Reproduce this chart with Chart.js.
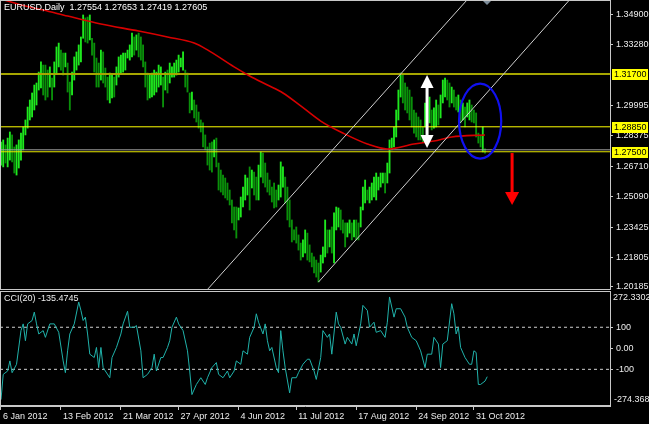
<!DOCTYPE html>
<html>
<head>
<meta charset="utf-8">
<script src="https://cdn.jsdelivr.net/npm/chart.js@4.4.1/dist/chart.umd.min.js"></script>
<style>
  html, body { margin: 0; padding: 0; background: #000; overflow: hidden; }
  #wrap { position: relative; width: 649px; height: 424px; background: #000; }
  #main { position: absolute; left: 0; top: 0; }
  #cci { position: absolute; left: 0; top: 290px; }
</style>
</head>
<body>
<div id="wrap">
  <canvas id="main" width="649" height="290"></canvas>
  <canvas id="cci" width="649" height="134"></canvas>
</div>
<script>
// ---------- Data ----------
const symbolName = 'EURUSD,Daily';
const lastOHLC = [1.27554, 1.27653, 1.27419, 1.27605];
const cciName = 'CCI(20)';
const cciLast = -135.4745;

// daily bars, high / low
const barHigh = [
  1.2803,1.2814,1.2787,1.2824,1.2857,1.2841,1.2776,1.2787,1.2814,1.2851,1.2884,1.2922,1.2992,1.3030,1.3068,1.3111,1.3122,1.3181,1.3236,1.3219,1.3219,1.3192,1.3209,1.3149,1.3236,1.3317,1.3338,1.3300,1.3284,1.3284,1.3230,1.3127,1.3181,1.3263,1.3290,1.3328,1.3371,1.3490,1.3474,1.3479,1.3490,1.3364,1.3338,1.3257,1.3230,
  1.3300,1.3290,1.3203,1.3154,1.3176,1.3165,1.3154,1.3209,1.3263,1.3273,1.3284,1.3284,1.3300,1.3328,1.3392,1.3371,1.3382,1.3392,1.3371,1.3328,1.3236,1.3176,1.3165,1.3176,1.3192,1.3181,1.3219,1.3209,1.3154,1.3181,1.3192,1.3230,1.3209,1.3230,1.3246,1.3273,1.3257,1.3290,1.3192,1.3176,1.3068,1.3073,
  1.3030,1.3003,1.2965,1.2922,1.2906,1.2841,1.2776,1.2797,1.2803,1.2814,1.2824,1.2689,1.2651,1.2624,1.2608,1.2581,1.2543,1.2489,1.2451,1.2451,1.2446,1.2505,1.2559,1.2624,1.2608,1.2668,1.2651,1.2640,1.2613,1.2678,1.2749,1.2743,1.2689,1.2635,1.2597,1.2559,1.2581,1.2543,1.2570,1.2695,1.2668,1.2613,1.2559,1.2489,1.2381,1.2327,1.2343,1.2300,1.2256,
  1.2273,1.2327,1.2310,1.2246,1.2202,1.2181,1.2164,1.2148,1.2191,1.2235,1.2381,1.2327,1.2327,1.2343,1.2419,1.2451,1.2446,1.2435,1.2381,1.2365,1.2365,1.2381,1.2365,1.2381,1.2381,1.2365,1.2451,1.2559,1.2597,1.2543,1.2559,1.2581,1.2613,1.2635,1.2613,1.2635,1.2635,1.2635,1.2689,
  1.2814,1.2824,1.2884,1.2976,1.3084,1.3176,1.3165,1.3122,1.3100,1.3084,1.3046,1.2976,1.2960,1.2938,1.2922,1.2884,1.3014,1.2976,1.3046,1.2976,1.2987,1.3030,1.3003,1.3057,1.3138,1.3149,1.3138,1.3122,1.3100,1.3084,1.3046,1.3057,1.3030,1.3014,1.2992,1.3014,1.3030,1.3003,1.2976,1.2960,1.2851,1.2841,1.2884,1.27653
];
const barLow = [
  1.2678,1.2668,1.2689,1.2668,1.2705,1.2695,1.2635,1.2624,1.2662,1.2705,1.2760,1.2841,1.2878,1.2922,1.2938,1.2976,1.3003,1.3084,1.3095,1.3057,1.3030,1.3046,1.3100,1.3030,1.3100,1.3176,1.3209,1.3192,1.3165,1.3209,1.3073,1.2976,1.3057,1.3138,1.3192,1.3219,1.3236,1.3364,1.3344,1.3338,1.3355,1.3273,1.3181,1.3100,1.3100,
  1.3138,1.3122,1.3100,1.3030,1.3014,1.3041,1.3046,1.3111,1.3154,1.3176,1.3181,1.3192,1.3257,1.3246,1.3263,1.3273,1.3300,1.3263,1.3246,1.3209,1.3100,1.3030,1.3041,1.3046,1.3057,1.3073,1.3100,1.3111,1.2992,1.3084,1.3068,1.3122,1.3154,1.3154,1.3165,1.3181,1.3209,1.3192,1.3100,1.3073,1.2960,1.2976,
  1.2933,1.2911,1.2878,1.2857,1.2776,1.2760,1.2678,1.2651,1.2640,1.2722,1.2668,1.2543,1.2532,1.2516,1.2500,1.2489,1.2462,1.2365,1.2327,1.2283,1.2381,1.2397,1.2451,1.2489,1.2516,1.2435,1.2554,1.2516,1.2489,1.2489,1.2613,1.2581,1.2559,1.2532,1.2516,1.2478,1.2446,1.2451,1.2489,1.2505,1.2559,1.2473,1.2381,1.2343,1.2262,1.2273,1.2256,1.2218,1.2164,
  1.2181,1.2202,1.2164,1.2154,1.2127,1.2094,1.2072,1.2045,1.2099,1.2148,1.2181,1.2202,1.2235,1.2202,1.2148,1.2327,1.2343,1.2327,1.2310,1.2235,1.2289,1.2310,1.2273,1.2289,1.2273,1.2273,1.2343,1.2435,1.2473,1.2489,1.2473,1.2489,1.2505,1.2489,1.2543,1.2559,1.2581,1.2527,1.2581,
  1.2635,1.2760,1.2776,1.2830,1.2922,1.3046,1.3014,1.2976,1.2960,1.2922,1.2884,1.2851,1.2830,1.2814,1.2814,1.2803,1.2884,1.2851,1.2906,1.2868,1.2878,1.2884,1.2895,1.2933,1.3014,1.3046,1.3030,1.2992,1.3014,1.2992,1.2976,1.2965,1.2906,1.2922,1.2884,1.2938,1.2922,1.2911,1.2906,1.2830,1.2797,1.2776,1.2749,1.27419
];

// moving average (red), sampled along the bar index
const maIdx = [0, 9, 19, 30, 45, 62, 75, 87, 93, 105, 112, 120, 127, 135, 144, 154, 165, 174, 186, 195, 203, 218];
const maVal = [1.3576, 1.3544, 1.3517, 1.3484, 1.3441, 1.3403, 1.3371, 1.3338, 1.3301, 1.3209, 1.3160, 1.3111, 1.3068, 1.2998, 1.2916, 1.2851, 1.2792, 1.2765, 1.2792, 1.2808, 1.2830, 1.2841];

// horizontal levels and bid line
const levelPrices = [1.31700, 1.28850, 1.27500];
const bidPrice = 1.27605;

// channel lines: [barIndex, price] anchors
const channelUpper = [[90, 1.1965], [214, 1.3626]];
const channelLower = [[143, 1.2045], [257, 1.3584]];

// price axis tick labels
const priceTicks = [1.34900, 1.33280, 1.29995, 1.28375, 1.26710, 1.25090, 1.23425, 1.21805, 1.20185];

// date axis
const dateLabels = ['6 Jan 2012', '13 Feb 2012', '21 Mar 2012', '27 Apr 2012', '4 Jun 2012', '11 Jul 2012', '17 Aug 2012', '24 Sep 2012', '31 Oct 2012'];
const dateIdx = [0, 27, 54, 80, 107, 133, 160, 187, 213];

// CCI(20)
const cciIdx = [0,1,3,4,5,7,9,10,11,12,14,15,16,17,19,20,22,24,26,28,29,30,31,33,35,36,37,38,39,40,
  42,43,44,45,46,47,49,50,52,54,55,57,58,60,61,63,64,66,68,69,70,72,73,75,76,77,79,80,82,84,
  85,86,88,89,90,92,93,95,97,98,100,102,103,105,106,108,109,111,112,114,115,116,118,119,120,121,122,124,125,126,
  127,128,130,131,133,134,136,138,139,141,142,144,145,147,148,149,151,152,153,155,156,158,159,160,162,163,165,166,168,169,
  171,173,174,175,177,178,180,182,183,185,187,189,191,192,194,195,197,198,199,201,203,204,205,206,207,209,211,212,213,214,
  215,216,218,219];
const cciVal = [-244,-124,-108,-60,-116,-76,84,116,36,116,132,172,116,68,84,52,116,116,76,-60,-116,-12,68,116,220,180,132,148,68,-28,
  -44,4,-92,4,-92,-108,-140,-44,4,68,116,176,100,100,108,-12,-140,-124,-92,-28,-108,-44,-44,4,36,100,148,116,84,-12,
  -108,-220,-172,-156,-140,-172,-140,-92,-68,-124,-140,-108,-140,-108,-60,-76,-12,-28,52,100,164,124,68,116,36,-12,4,-92,-116,84,
  -12,-92,-212,-140,-140,-116,-76,-52,-52,-108,-148,-44,84,52,68,-28,172,116,100,20,52,20,68,12,116,204,180,100,124,76,
  84,52,124,244,148,188,188,148,100,52,36,-12,-92,-28,-28,52,20,-92,20,36,212,164,68,100,4,-44,-76,-76,-12,-20,
  -172,-172,-156,-135];
const cciLevels = [100, -100];
const cciTicks = [100, 0, -100];
const cciRange = [-274.368, 272.3302];

// annotations, in bar index / price units
const rangeArrow = { idx: 191.9, top: 1.3165, bottom: 1.2770 };
const circleMark = { idx: 215.8, price: 1.2916, halfBars: 9.5, halfPrice: 0.0203 };
const downArrow = { idx: 230.2, top: 1.2743, tip: 1.2462 };
const shiftMarkIdx = 218.9;

// ---------- Setup ----------
const xMin = -0.45, xMax = 274.3;
const priceMin = 1.20021, priceMax = 1.3571;
const FONT = '"Liberation Sans", Arial, sans-serif';
const AXIS_COL = '#c8c8c8';
const TEXT_COL = '#ececec';

const barColors = barHigh.map((h, i) => {
    if (i === 0) return '#1ee81e';
    const mid = (h + barLow[i]) / 2;
    const prev = (barHigh[i - 1] + barLow[i - 1]) / 2;
    return mid >= prev ? '#1ee81e' : '#0a900a';
});

const hLine = v => [{ x: xMin, y: v }, { x: xMax, y: v }];
const toPts = (xs, ys) => xs.map((x, i) => ({ x, y: ys[i] }));
const lineDs = (data, color, width, order, extra) => Object.assign({
    type: 'line', data, borderColor: color, borderWidth: width,
    pointRadius: 0, tension: 0, order
}, extra || {});

// frame round the plot area
const frame = {
    id: 'frame',
    afterDraw(chart) {
        const { ctx, chartArea: a } = chart;
        ctx.save();
        ctx.strokeStyle = AXIS_COL;
        ctx.lineWidth = 1;
        ctx.strokeRect(a.left + 0.5, a.top + 0.5, a.right - a.left, a.bottom - a.top - 1);
        ctx.restore();
    }
};

function tri(ctx, x1, y1, x2, y2, x3, y3) {
    ctx.beginPath();
    ctx.moveTo(x1, y1); ctx.lineTo(x2, y2); ctx.lineTo(x3, y3);
    ctx.closePath();
    ctx.fill();
}

const mainOverlay = {
    id: 'mainOverlay',
    afterDatasetsDraw(chart) {
        const { ctx, chartArea: a } = chart;
        const xs = chart.scales.x, ys = chart.scales.y;
        ctx.save();

        // yellow price tags on the axis
        ctx.font = '9px ' + FONT;
        ctx.textBaseline = 'middle';
        ctx.textAlign = 'left';
        levelPrices.forEach(v => {
            const py = Math.round(ys.getPixelForValue(v));
            ctx.fillStyle = '#ffff00';
            ctx.fillRect(a.right + 2, py - 5, 36, 11);
            ctx.fillStyle = '#000';
            ctx.fillText(v.toFixed(5), a.right + 4, py + 0.5);
        });

        ctx.beginPath();
        ctx.rect(a.left, a.top, a.right - a.left, a.bottom - a.top);
        ctx.clip();

        // title
        ctx.fillStyle = '#ffffff';
        ctx.fillText(symbolName + '  ' + lastOHLC.map(v => v.toFixed(5)).join(' '), 4, 7.5);

        // white double arrow
        const ax = xs.getPixelForValue(rangeArrow.idx);
        const at = ys.getPixelForValue(rangeArrow.top);
        const ab = ys.getPixelForValue(rangeArrow.bottom);
        ctx.fillStyle = '#ffffff';
        ctx.fillRect(ax - 1.5, at + 10, 3, ab - at - 20);
        tri(ctx, ax, at, ax - 6.5, at + 13, ax + 6.5, at + 13);
        tri(ctx, ax, ab, ax - 6.5, ab - 13, ax + 6.5, ab - 13);

        // blue ellipse
        const cx = xs.getPixelForValue(circleMark.idx);
        const cy = ys.getPixelForValue(circleMark.price);
        const rx = Math.abs(xs.getPixelForValue(circleMark.idx + circleMark.halfBars) - cx);
        const ry = Math.abs(ys.getPixelForValue(circleMark.price + circleMark.halfPrice) - cy);
        ctx.strokeStyle = '#1010f0';
        ctx.lineWidth = 2.2;
        ctx.beginPath();
        ctx.ellipse(cx, cy, rx, ry, 0, 0, Math.PI * 2);
        ctx.stroke();

        // red down arrow
        const rxp = xs.getPixelForValue(downArrow.idx);
        const rt = ys.getPixelForValue(downArrow.top);
        const rb = ys.getPixelForValue(downArrow.tip);
        ctx.fillStyle = '#ff0000';
        ctx.fillRect(rxp - 1.5, rt, 3, rb - rt - 12);
        tri(ctx, rxp, rb, rxp - 7, rb - 13, rxp + 7, rb - 13);

        // chart shift marker
        const mx = xs.getPixelForValue(shiftMarkIdx);
        ctx.fillStyle = '#7d8c99';
        tri(ctx, mx - 5, a.top, mx + 5, a.top, mx, a.top + 5);

        ctx.restore();
    }
};

const cciOverlay = {
    id: 'cciOverlay',
    afterDatasetsDraw(chart) {
        const { ctx, chartArea: a } = chart;
        ctx.save();
        ctx.font = '9px ' + FONT;
        ctx.textBaseline = 'middle';
        ctx.textAlign = 'left';
        ctx.fillStyle = TEXT_COL;
        ctx.fillText(cciName + ' ' + cciLast.toFixed(4), 4, a.top + 7.5);
        ctx.fillText(cciRange[1].toFixed(4), a.right + 3, a.top + 7);
        ctx.fillText(cciRange[0].toFixed(3), a.right + 4, a.bottom - 6);
        ctx.restore();
    }
};

const baseOpts = {
    responsive: false,
    animation: false,
    events: [],
    plugins: { legend: { display: false }, tooltip: { enabled: false } }
};

// ---------- Main price chart ----------
new Chart(document.getElementById('main'), {
    type: 'bar',
    data: {
        datasets: [
            {
                type: 'bar',
                data: barHigh.map((h, i) => ({ x: i, y: [barLow[i], h] })),
                backgroundColor: barColors,
                borderWidth: 0,
                barThickness: 1.2,
                grouped: false,
                order: 6
            },
            lineDs(hLine(levelPrices[0]), '#a6a600', 2, 4),
            lineDs(hLine(levelPrices[1]), '#ffff00', 1, 4),
            lineDs(hLine(bidPrice), '#a0a0a0', 1, 4),
            lineDs(hLine(levelPrices[2]), '#e6e600', 1, 4),
            lineDs(toPts(maIdx, maVal), '#d80000', 1.6, 3, { cubicInterpolationMode: 'monotone' }),
            lineDs(channelUpper.map(p => ({ x: p[0], y: p[1] })), '#d0d0d0', 1, 2),
            lineDs(channelLower.map(p => ({ x: p[0], y: p[1] })), '#d0d0d0', 1, 2)
        ]
    },
    options: Object.assign({}, baseOpts, {
        layout: { padding: 0, autoPadding: false },
        scales: {
            x: { type: 'linear', min: xMin, max: xMax, offset: false, display: false, grid: { offset: false } },
            y: {
                position: 'right',
                min: priceMin,
                max: priceMax,
                afterBuildTicks: s => { s.ticks = priceTicks.map(v => ({ value: v })); },
                afterFit: s => { s.width = 39; s.paddingTop = 0; s.paddingBottom = 0; },
                ticks: {
                    autoSkip: false,
                    color: TEXT_COL,
                    padding: 3,
                    font: { family: FONT, size: 9 },
                    callback: v => Number(v).toFixed(5)
                },
                grid: { drawOnChartArea: false, tickLength: 3, color: AXIS_COL },
                border: { color: AXIS_COL }
            }
        }
    }),
    plugins: [mainOverlay, frame]
});

// ---------- CCI panel ----------
new Chart(document.getElementById('cci'), {
    type: 'line',
    data: {
        datasets: [
            lineDs(toPts(cciIdx, cciVal), '#20b2aa', 1, 1),
            ...cciLevels.map(v => lineDs(hLine(v), '#cfcfcf', 1, 2, { borderDash: [3, 3] }))
        ]
    },
    options: Object.assign({}, baseOpts, {
        layout: { padding: { top: 1, left: 0, right: 0, bottom: 0 }, autoPadding: false },
        scales: {
            x: {
                type: 'linear', min: xMin, max: xMax, offset: false,
                afterBuildTicks: s => { s.ticks = dateIdx.map(v => ({ value: v })); },
                afterFit: s => { s.height = 18; s.paddingLeft = 0; s.paddingRight = 0; },
                ticks: {
                    autoSkip: false, maxRotation: 0, minRotation: 0,
                    align: 'start', labelOffset: 2, padding: 1,
                    color: TEXT_COL,
                    font: { family: FONT, size: 9 },
                    callback: (v, i) => dateLabels[i]
                },
                grid: { drawOnChartArea: false, tickLength: 4, color: AXIS_COL, offset: false },
                border: { color: AXIS_COL }
            },
            y: {
                position: 'right',
                min: cciRange[0],
                max: cciRange[1],
                afterBuildTicks: s => { s.ticks = cciTicks.map(v => ({ value: v })); },
                afterFit: s => { s.width = 39; s.paddingTop = 0; s.paddingBottom = 0; },
                ticks: {
                    autoSkip: false,
                    color: TEXT_COL,
                    padding: 3,
                    font: { family: FONT, size: 9 },
                    callback: v => (v === 0 ? '0.00' : String(v))
                },
                grid: { drawOnChartArea: false, tickLength: 3, color: AXIS_COL },
                border: { color: AXIS_COL }
            }
        }
    }),
    plugins: [cciOverlay, frame]
});
</script>
</body>
</html>
